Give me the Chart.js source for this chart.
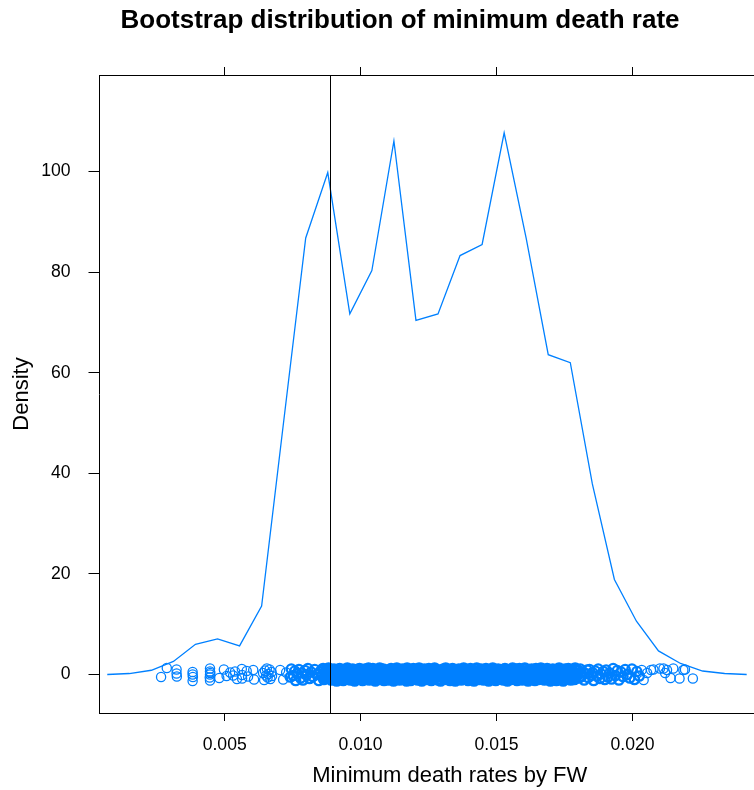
<!DOCTYPE html>
<html><head><meta charset="utf-8">
<script src="https://cdn.jsdelivr.net/npm/chart.js@4/dist/chart.umd.min.js"></script>
<style>
html,body{margin:0;padding:0;background:#fff;overflow:hidden;}
#wrap{width:815px;height:790px;}
</style></head><body>
<div id="wrap"><canvas id="c" width="815" height="790"></canvas></div>
<script>
const titleText = "Bootstrap distribution of minimum death rate";
const xTitle = "Minimum death rates by FW";
const yTitle = "Density";
const xTicks = [0.005, 0.010, 0.015, 0.020];
const yTicks = [0, 20, 40, 60, 80, 100];
const minRate = 0.00888;

const densityX = [0.000681,0.001492,0.002303,0.003114,0.003925,0.004736,0.005547,0.006358,0.007169,0.007980,
  0.008791,0.009602,0.010413,0.011224,0.012035,0.012846,0.013657,0.014468,0.015279,0.016090,
  0.016901,0.017712,0.018523,0.019334,0.020145,0.020956,0.021767,0.022578,0.023389,0.024200];
const densityY = [0,0.2,0.85,2.6,6.0,7.1,5.7,13.6,50.3,86.8,
  99.8,71.7,80.3,106.1,70.4,71.7,83.3,85.5,107.7,86.7,
  63.6,62.0,37.9,18.9,10.6,4.7,2.2,0.7,0.2,0];

const rugRate = [
266e-5,287e-5,323e-5,323e-5,324e-5,382e-5,382e-5,383e-5,382e-5,446e-5,
446e-5,446e-5,445e-5,446e-5,447e-5,480e-5,497e-5,507e-5,520e-5,531e-5,
538e-5,545e-5,563e-5,564e-5,564e-5,581e-5,586e-5,605e-5,608e-5,641e-5,
645e-5,648e-5,652e-5,655e-5,658e-5,661e-5,665e-5,668e-5,672e-5,674e-5,
704e-5,715e-5,726e-5,741e-5,745e-5,752e-5,758e-5,761e-5,767e-5,773e-5,
779e-5,784e-5,788e-5,795e-5,801e-5,806e-5,812e-5,818e-5,824e-5,831e-5,
839e-5,846e-5,851e-5,858e-5,862e-5,865e-5,869e-5,871e-5,876e-5,879e-5,
882e-5,886e-5,888e-5,892e-5,895e-5,900e-5,902e-5,905e-5,909e-5,912e-5,
914e-5,919e-5,923e-5,926e-5,929e-5,933e-5,936e-5,938e-5,942e-5,946e-5,
949e-5,951e-5,955e-5,958e-5,962e-5,965e-5,967e-5,971e-5,975e-5,978e-5,
980e-5,984e-5,987e-5,991e-5,994e-5,996e-5,1000e-5,1003e-5,1007e-5,1009e-5,
1013e-5,1016e-5,1019e-5,1023e-5,1025e-5,1029e-5,1032e-5,1036e-5,1038e-5,1041e-5,
1045e-5,1048e-5,1051e-5,1054e-5,1058e-5,1060e-5,1064e-5,1067e-5,1070e-5,1073e-5,
1077e-5,1080e-5,1083e-5,1086e-5,1089e-5,1093e-5,1096e-5,1099e-5,1102e-5,1105e-5,
1108e-5,1112e-5,1115e-5,1117e-5,1121e-5,1124e-5,1128e-5,1130e-5,1133e-5,1137e-5,
1140e-5,1143e-5,1146e-5,1149e-5,1153e-5,1156e-5,1158e-5,1162e-5,1165e-5,1169e-5,
1171e-5,1174e-5,1178e-5,1181e-5,1184e-5,1187e-5,1190e-5,1194e-5,1197e-5,1199e-5,
1203e-5,1206e-5,1210e-5,1212e-5,1215e-5,1219e-5,1222e-5,1225e-5,1228e-5,1231e-5,
1235e-5,1238e-5,1240e-5,1244e-5,1247e-5,1251e-5,1253e-5,1256e-5,1260e-5,1263e-5,
1266e-5,1269e-5,1272e-5,1276e-5,1279e-5,1281e-5,1285e-5,1288e-5,1292e-5,1294e-5,
1297e-5,1301e-5,1304e-5,1307e-5,1310e-5,1313e-5,1317e-5,1320e-5,1322e-5,1326e-5,
1329e-5,1333e-5,1335e-5,1338e-5,1342e-5,1345e-5,1348e-5,1351e-5,1354e-5,1358e-5,
1361e-5,1363e-5,1367e-5,1370e-5,1374e-5,1376e-5,1379e-5,1383e-5,1386e-5,1389e-5,
1392e-5,1395e-5,1399e-5,1402e-5,1404e-5,1408e-5,1411e-5,1415e-5,1417e-5,1420e-5,
1424e-5,1427e-5,1430e-5,1433e-5,1436e-5,1440e-5,1443e-5,1445e-5,1449e-5,1452e-5,
1456e-5,1458e-5,1461e-5,1465e-5,1468e-5,1471e-5,1474e-5,1477e-5,1481e-5,1484e-5,
1486e-5,1490e-5,1493e-5,1497e-5,1499e-5,1502e-5,1506e-5,1509e-5,1512e-5,1515e-5,
1518e-5,1522e-5,1525e-5,1527e-5,1531e-5,1534e-5,1538e-5,1540e-5,1543e-5,1547e-5,
1550e-5,1553e-5,1556e-5,1559e-5,1563e-5,1566e-5,1568e-5,1572e-5,1575e-5,1579e-5,
1581e-5,1584e-5,1588e-5,1591e-5,1594e-5,1597e-5,1600e-5,1604e-5,1607e-5,1609e-5,
1613e-5,1616e-5,1620e-5,1622e-5,1625e-5,1629e-5,1632e-5,1635e-5,1638e-5,1641e-5,
1645e-5,1648e-5,1650e-5,1654e-5,1657e-5,1661e-5,1663e-5,1666e-5,1670e-5,1673e-5,
1676e-5,1679e-5,1682e-5,1686e-5,1689e-5,1691e-5,1695e-5,1698e-5,1702e-5,1704e-5,
1707e-5,1711e-5,1714e-5,1717e-5,1720e-5,1723e-5,1727e-5,1730e-5,1732e-5,1736e-5,
1739e-5,1743e-5,1745e-5,1748e-5,1752e-5,1755e-5,1758e-5,1761e-5,1764e-5,1768e-5,
1771e-5,1773e-5,1777e-5,1780e-5,1784e-5,1786e-5,1789e-5,1793e-5,1796e-5,1799e-5,
1803e-5,1808e-5,1812e-5,1818e-5,1822e-5,1827e-5,1833e-5,1837e-5,1842e-5,1848e-5,
1853e-5,1857e-5,1863e-5,1869e-5,1874e-5,1880e-5,1885e-5,1892e-5,1898e-5,1903e-5,
1910e-5,1916e-5,1923e-5,1929e-5,1937e-5,1944e-5,1950e-5,1958e-5,1965e-5,1973e-5,
1981e-5,1990e-5,1998e-5,2007e-5,2016e-5,2025e-5,2034e-5,2041e-5,2054e-5,2068e-5,
2077e-5,2101e-5,2114e-5,2120e-5,2127e-5,2140e-5,2150e-5,2173e-5,2187e-5,2193e-5,
2222e-5];

const rugJitter = [
-0.5,1.3,1.0,0.2,-0.4,0.5,0.0,-0.5,-1.3,1.2,
0.6,0.0,-0.6,-1.2,0.3,-0.7,1.0,-0.3,0.4,-0.2,
0.6,-0.9,1.1,-0.1,-0.8,0.7,-0.4,0.9,-1.0,0.3,
-1.1,0.8,-0.2,1.2,-0.6,0.1,1.0,-0.9,0.5,-0.3,
0.9,-1.0,0.4,-0.5,1.1,-0.2,0.7,-1.2,0.2,1.0,
-0.7,0.3,-1.1,0.8,-0.1,1.2,-0.8,0.5,-0.4,1.0,
0.0,-1.2,0.6,-0.3,1.1,-0.9,0.4,-0.6,0.9,-0.1,
1.2,-0.5,0.2,-1.0,0.7,-0.2,1.0,-0.8,0.3,-1.2,
0.8,-0.4,1.1,0.1,-0.9,0.5,-1.1,0.9,-0.3,0.6,
-0.7,1.2,-0.1,0.4,-1.0,0.8,-0.5,1.0,0.0,-1.2,
0.6,-0.3,0.9,-0.8,0.2,1.1,-0.6,0.5,-1.1,0.7,
-0.2,1.0,-0.9,0.3,-0.4,1.2,-1.0,0.1,0.8,-0.6,
1.1,-0.7,0.4,-1.2,0.6,-0.1,0.9,-0.5,1.2,-0.9,
0.2,-0.3,1.0,-1.1,0.5,0.8,-0.6,0.0,-1.0,0.7,
-0.4,1.1,-0.8,0.3,-1.2,0.9,0.1,-0.7,1.2,-0.2,
0.5,-1.0,0.7,-0.3,1.0,-0.9,0.4,-0.1,0.8,-1.2,
1.2,-0.6,0.0,0.9,-1.1,0.3,-0.5,1.1,-0.8,0.6,
-0.2,0.7,-1.0,0.4,1.2,-0.4,0.1,-1.2,0.9,-0.7,
1.0,-0.3,0.6,-0.9,0.2,1.1,-0.6,0.8,-1.1,0.0,
0.4,-0.8,1.2,-0.5,0.9,-0.1,-1.0,0.6,0.3,-1.2,
0.8,-0.4,1.0,-0.7,0.1,1.2,-0.9,0.5,-0.2,0.7,
-1.1,0.3,-0.6,1.1,-0.3,0.9,-1.2,0.0,0.6,-0.8,
1.0,-0.5,0.2,-1.0,0.8,-0.1,1.2,-0.7,0.4,-0.4,
0.9,-1.1,0.5,-0.2,1.1,-0.8,0.1,0.7,-1.2,0.3,
-0.6,1.2,-0.3,0.6,-0.9,0.0,1.0,-0.5,0.8,-1.0,
0.2,-0.7,1.1,-0.4,0.5,-1.2,0.9,-0.1,0.3,-0.9,
1.2,-0.2,0.7,-1.1,0.4,-0.6,1.0,0.1,-0.8,0.6,
-0.3,0.9,-1.0,0.2,1.1,-0.5,0.0,-1.2,0.8,-0.4,
0.7,-0.9,0.3,1.2,-0.7,0.5,-0.1,1.0,-1.1,0.2,
-0.5,1.1,-0.2,0.8,-1.0,0.4,-0.6,1.2,0.0,-0.8,
0.6,-1.2,0.9,-0.3,0.1,1.0,-0.7,0.5,-0.1,-1.1,
1.1,-0.4,0.3,-0.9,0.7,-0.2,1.2,-0.6,0.0,0.8,
-1.0,0.4,-0.5,1.1,-0.8,0.2,0.9,-1.2,0.6,-0.3,
1.0,-0.7,0.1,0.5,-1.1,0.8,-0.4,1.2,-0.9,0.3,
-0.1,0.7,-1.2,0.4,1.0,-0.6,0.2,-0.8,1.1,-0.3,
0.6,-1.0,0.9,-0.2,0.3,-0.9,1.2,-0.5,0.0,0.8,
-0.7,1.1,-0.4,0.5,-1.1,0.2,0.9,-0.6,1.0,-0.1,
0.4,-1.2,0.7,-0.3,1.1,-0.8,0.1,0.6,-1.0,0.9,
-0.5,0.3,-0.9,1.2,-0.2,0.8,-1.1,0.5,-0.4,1.0,
0.0,-0.7,1.1,-1.0,0.6,-0.3,0.9,-1.1,0.3,0.9,
1.0,1.2,1.2,0.3,0.9,-0.7,1.2,-0.8,0.9,1.0,
-0.8];

const BLUE = '#0080ff';
const FONT = 'Liberation Sans, Arial, Helvetica, sans-serif';
const X_MIN = 0.000395, X_MAX = 0.026161;
const Y_MIN = -7.65, Y_MAX = 119.2;

const densityPts = densityX.map((x, i) => ({x: x, y: densityY[i]}));
const rugPts = rugRate.map((x, i) => ({x: x, y: rugJitter[i]}));

// heavier outline where circles pile up densely (style only)
function rugBorder(ctx) {
  const v = ctx.raw ? ctx.raw.x : 0;
  if (v > 0.00858 && v < 0.01802) return 3.4;
  if (v > 0.00738 && v < 0.02030) return 2.4;
  return 1.3;
}

const refLine = {
  id: 'refLine',
  afterDatasetsDraw(chart) {
    const {ctx, chartArea} = chart;
    const px = Math.round(chart.scales.x.getPixelForValue(minRate)) + 0.5;
    ctx.save();
    ctx.strokeStyle = '#000';
    ctx.lineWidth = 1;
    ctx.beginPath();
    ctx.moveTo(px, chartArea.top);
    ctx.lineTo(px, chartArea.bottom);
    ctx.stroke();
    ctx.restore();
  }
};

const tickSetter = list => s => { s.ticks = list.map(v => ({value: v})); };

new Chart(document.getElementById('c'), {
  type: 'scatter',
  data: {
    datasets: [
      {
        type: 'line',
        data: densityPts,
        borderColor: BLUE,
        borderWidth: 1.3,
        pointRadius: 0,
        tension: 0,
        fill: false
      },
      {
        type: 'scatter',
        data: rugPts,
        pointStyle: 'circle',
        pointRadius: 4.6,
        pointBorderWidth: rugBorder,
        borderColor: BLUE,
        backgroundColor: 'rgba(0,0,0,0)'
      }
    ]
  },
  options: {
    responsive: false,
    animation: false,
    devicePixelRatio: 1,
    layout: {padding: {left: 0, right: 15, top: 0, bottom: 0}},
    plugins: {
      legend: {display: false},
      tooltip: {enabled: false},
      title: {
        display: true,
        text: titleText,
        color: '#000',
        font: {family: FONT, size: 26, weight: 'bold', lineHeight: 1.2},
        padding: {top: 5, bottom: 0}
      }
    },
    scales: {
      x: {
        type: 'linear', position: 'bottom', min: X_MIN, max: X_MAX,
        afterBuildTicks: tickSetter(xTicks),
        afterFit: s => { s.height = 77; },
        ticks: {
          callback: v => v.toFixed(3), color: '#000', autoSkip: false, maxRotation: 0,
          font: {family: FONT, size: 17.6}, padding: 14
        },
        grid: {display: true, drawOnChartArea: false, drawTicks: true, tickLength: 8, color: '#000', lineWidth: 1},
        border: {display: true, color: '#000', width: 1},
        title: {display: true, text: xTitle, color: '#000', font: {family: FONT, size: 22, lineHeight: 1.2}, padding: {top: 0, bottom: 1}}
      },
      x2: {
        type: 'linear', position: 'top', min: X_MIN, max: X_MAX,
        afterBuildTicks: tickSetter(xTicks),
        afterFit: s => { s.height = 38.8; },
        ticks: {display: false},
        grid: {display: true, drawOnChartArea: false, drawTicks: true, tickLength: 8, color: '#000', lineWidth: 1},
        border: {display: true, color: '#000', width: 1}
      },
      y: {
        type: 'linear', position: 'left', min: Y_MIN, max: Y_MAX,
        afterBuildTicks: tickSetter(yTicks),
        afterFit: s => { s.width = 99.5; },
        ticks: {color: '#000', autoSkip: false, font: {family: FONT, size: 17.6}, padding: 18},
        grid: {display: true, drawOnChartArea: false, drawTicks: true, tickLength: 11, color: '#000', lineWidth: 1},
        border: {display: true, color: '#000', width: 1},
        title: {display: true, text: yTitle, color: '#000', font: {family: FONT, size: 22, lineHeight: 1.2}, padding: {top: 9, bottom: 0}}
      }
    }
  },
  plugins: [refLine]
});
</script>
</body></html>
